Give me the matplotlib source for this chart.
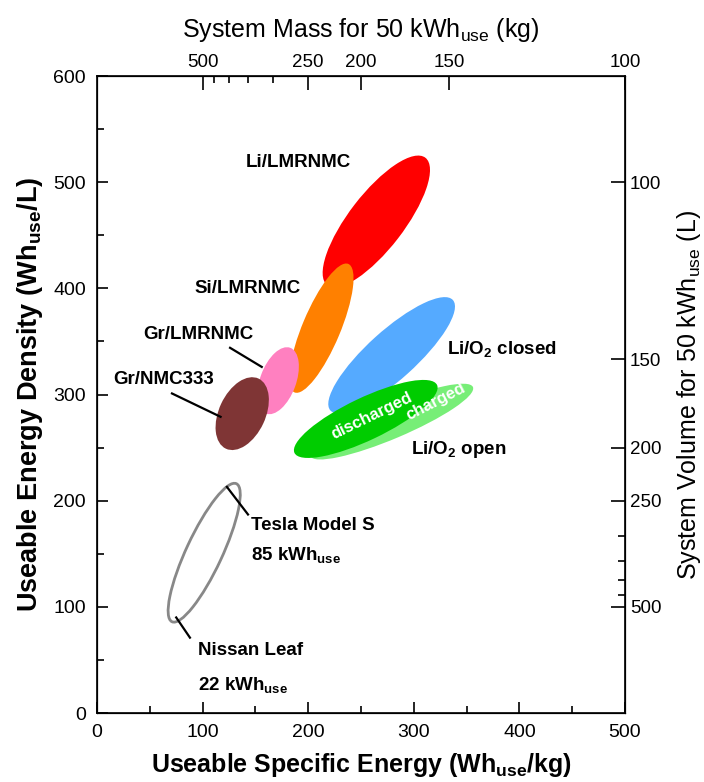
import numpy as np
import matplotlib
matplotlib.use("Agg")
import matplotlib.pyplot as plt
from matplotlib.patches import Ellipse

plt.rcParams['font.family'] = ['Liberation Sans', 'DejaVu Sans']
plt.rcParams['mathtext.fontset'] = 'custom'
plt.rcParams['mathtext.rm'] = 'Liberation Sans'
plt.rcParams['mathtext.bf'] = 'Liberation Sans:bold'

# data: each region given by its two ends along the long axis
# (specific energy Wh/kg, energy density Wh/L) and its width across
regions = ["Li/LMRNMC", "Si/LMRNMC", "Gr/LMRNMC", "Gr/NMC333",
           "Li/O2 closed", "Li/O2 charged", "Li/O2 discharged", "Vehicles"]
low_se = [218, 187, 160, 122, 221, 202, 187, 71]
low_ed = [403, 302, 282, 249, 285, 242, 245, 86]
high_se = [311, 238, 183, 153, 337, 356, 322, 132]
high_ed = [523, 423, 344, 315, 389, 307, 309, 216]
spread = [52, 36, 34, 44, 46, 32, 40, 34]
colors = ["#FF0000", "#FF8000", "#FF80C0", "#7F3535",
          "#55AAFF", "#77EE77", "#00CC00", "none"]

# secondary scales for a 50 kWh pack
mass_major = [500, 250, 200, 150, 100]
mass_minor = [450, 400, 350, 300]
vol_major = [100, 150, 200, 250, 500]
vol_minor = [300, 350, 400, 450]
pack_wh = 50000

fig = plt.figure(figsize=(7.04, 7.82), dpi=100)
ax = fig.add_axes([0.1378, 0.0882, 0.75, 0.8146])
ax.set_xlim(0, 500)
ax.set_ylim(0, 600)

for i in range(len(regions)):
    cx = (low_se[i] + high_se[i]) / 2
    cy = (low_ed[i] + high_ed[i]) / 2
    dx = high_se[i] - low_se[i]
    dy = high_ed[i] - low_ed[i]
    length = np.hypot(dx, dy)
    ang = np.degrees(np.arctan2(dy, dx))
    if colors[i] == "none":
        e = Ellipse((cx, cy), length, spread[i], angle=ang, facecolor="none",
                    edgecolor="#888888", lw=2)
    else:
        e = Ellipse((cx, cy), length, spread[i], angle=ang, facecolor=colors[i],
                    edgecolor="none")
    ax.add_patch(e)

lab = dict(fontsize=13.5, fontweight="bold", color="black")
ax.text(191, 519, "Li/LMRNMC", ha="center", va="center", **lab)
ax.text(143, 400, "Si/LMRNMC", ha="center", va="center", **lab)
ax.text(96, 357, "Gr/LMRNMC", ha="center", va="center", **lab)
ax.text(63, 314, "Gr/NMC333", ha="center", va="center", **lab)
ax.text(331, 342, r"Li/O$_\mathbf{2}$ closed", ha="left", va="center", **lab)
ax.text(297, 248, r"Li/O$_\mathbf{2}$ open", ha="left", va="center", **lab)
ax.text(146, 177, "Tesla Model S", ha="left", va="center", **lab)
ax.text(146, 148, r"85 kWh$_\mathbf{use}$", ha="left", va="center", **lab)
ax.text(96, 59, "Nissan Leaf", ha="left", va="center", **lab)
ax.text(96, 26, r"22 kWh$_\mathbf{use}$", ha="left", va="center", **lab)

ax.text(260, 280, "discharged", ha="center", va="center", rotation=26,
        rotation_mode="anchor", fontsize=12, fontweight="bold", color="white")
ax.text(321, 293, "charged", ha="center", va="center", rotation=27,
        rotation_mode="anchor", fontsize=12, fontweight="bold", color="white")

# leader lines
ax.plot([126, 156], [344, 326], color="black", lw=1.6)
ax.plot([71, 117], [301, 279], color="black", lw=1.6)
ax.plot([123, 143], [213, 187], color="black", lw=1.6)
ax.plot([75, 88], [90, 71], color="black", lw=1.6)

ax.set_xticks(np.arange(0, 501, 100))
ax.set_xticks(np.arange(50, 500, 100), minor=True)
ax.set_yticks(np.arange(0, 601, 100))
ax.set_yticks(np.arange(50, 600, 100), minor=True)
ax.tick_params(which="both", direction="in", labelsize=14, width=1.2)
ax.tick_params(which="major", length=8)
ax.tick_params(which="minor", length=5)
ax.tick_params(axis="x", pad=8)
ax.tick_params(axis="y", pad=8)
ax.set_xlabel(r"Useable Specific Energy (Wh$_\mathbf{use}$/kg)", fontsize=18,
              fontweight="bold", labelpad=7)
ax.set_ylabel(r"Useable Energy Density (Wh$_\mathbf{use}$/L)", fontsize=19.5,
              fontweight="bold", labelpad=6)
for s in ax.spines.values():
    s.set_linewidth(1.2)

top = ax.twiny()
top.set_xlim(0, 500)
top.set_xticks([pack_wh / m for m in mass_major])
top.set_xticklabels([str(m) for m in mass_major])
top.set_xticks([pack_wh / m for m in mass_minor], minor=True)
top.tick_params(which="both", direction="in", labelsize=13.5, width=1.2)
top.tick_params(which="major", length=10)
top.tick_params(which="minor", length=5)
top.set_xlabel(r"System Mass for 50 kWh$_\mathrm{use}$ (kg)", fontsize=18, labelpad=12)

right = ax.twinx()
right.set_ylim(0, 600)
right.set_yticks([pack_wh / v for v in vol_major])
right.set_yticklabels([str(v) for v in vol_major])
right.set_yticks([pack_wh / v for v in vol_minor], minor=True)
right.tick_params(which="both", direction="in", labelsize=13.5, width=1.2)
right.tick_params(which="major", length=10)
right.tick_params(which="minor", length=5)
right.set_ylabel(r"System Volume for 50 kWh$_\mathrm{use}$ (L)", fontsize=18, labelpad=10)

fig.savefig("out.png", dpi=100)
print("finished")
